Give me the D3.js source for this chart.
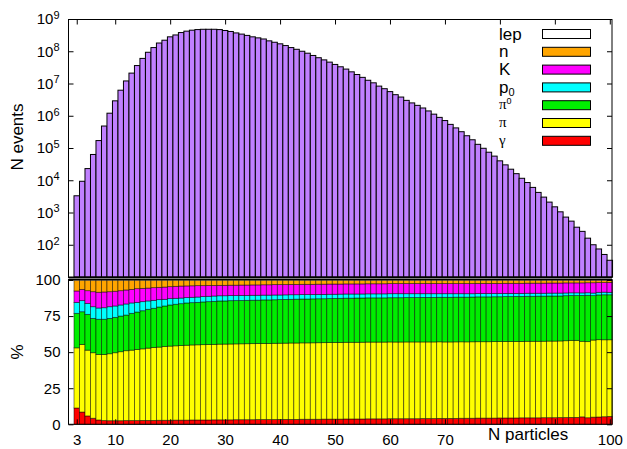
<!DOCTYPE html>
<meta charset="utf-8">
<style>

body {
  margin: 0;
  background: #fff;
}

svg text {
  font-family: "Liberation Sans", Arial, Helvetica, sans-serif;
  fill: #000;
}

.frame {
  fill: none;
  stroke: #000;
  stroke-width: 1;
}

.axis line {
  stroke: #000;
}

.greek {
  font-family: "Liberation Serif", "DejaVu Serif", serif;
}

</style>
<body>

<script src="https://cdn.jsdelivr.net/npm/d3@7"></script>

<script>

// bins: number of particles per event
var nParticles = d3.range(3, 101);

// top panel: number of events per bin
var nEvents = [
  3.3e3, 9.3e3, 2.3e4, 6.3e4, 1.7e5, 4.8e5, 1.2e6, 2.9e6, 6.2e6, 1.2e7,
  2.1e7, 3.6e7, 6.0e7, 9.3e7, 1.3e8, 1.8e8, 2.2e8, 2.8e8, 3.2e8, 3.8e8,
  4.2e8, 4.5e8, 4.7e8, 4.8e8, 4.8e8, 4.8e8, 4.7e8, 4.4e8, 4.1e8, 3.7e8,
  3.4e8, 3.1e8, 2.8e8, 2.6e8, 2.4e8, 2.1e8, 1.9e8, 1.7e8, 1.5e8, 1.3e8,
  1.15e8, 1.0e8, 8.7e7, 7.4e7, 6.3e7, 5.4e7, 4.6e7, 3.9e7, 3.3e7, 2.8e7,
  2.3e7, 1.9e7, 1.55e7, 1.26e7, 1.05e7, 8.3e6, 6.9e6, 5.6e6, 4.5e6, 3.8e6,
  3.0e6, 2.5e6, 2.1e6, 1.74e6, 1.41e6, 1.12e6, 8.9e5, 7.1e5, 5.4e5, 4.2e5,
  3.2e5, 2.4e5, 1.8e5, 1.3e5, 9.8e4, 7.4e4, 5.6e4, 4.0e4, 3.0e4, 2.2e4,
  1.6e4, 1.15e4, 8.5e3, 6.0e3, 4.2e3, 3.0e3, 2.1e3, 1.5e3, 1.05e3, 720,
  540, 350, 260, 160, 100, 74, 50, 33
];

// bottom panel: share of each particle type (%)
var gammaPct = [
  11.3, 8.5, 5.8, 4.2, 3.0, 2.6, 2.5, 2.5, 2.5, 2.6,
  2.6, 2.6, 2.7, 2.7, 2.7, 2.8, 2.8, 2.8, 2.9, 2.9,
  2.9, 3.0, 3.0, 3.0, 3.0, 3.1, 3.1, 3.1, 3.1, 3.2,
  3.2, 3.2, 3.2, 3.3, 3.3, 3.3, 3.3, 3.4, 3.4, 3.4,
  3.4, 3.5, 3.5, 3.5, 3.5, 3.6, 3.6, 3.6, 3.6, 3.7,
  3.7, 3.7, 3.7, 3.8, 3.8, 3.8, 3.8, 3.9, 3.9, 3.9,
  3.9, 3.9, 3.9, 4.0, 4.0, 4.0, 4.1, 4.1, 4.1, 4.1,
  4.2, 4.2, 4.2, 4.3, 4.3, 4.3, 4.3, 4.4, 4.4, 4.4,
  4.4, 4.5, 4.5, 4.5, 4.5, 4.6, 4.6, 4.6, 4.7, 4.7,
  4.8, 4.8, 5.2, 4.6, 5.0, 5.1, 5.3, 5.5
];

var piPct = [
  41.7, 46.8, 45.6, 45.4, 45.4, 45.8, 46.4, 47.1, 47.8, 48.4,
  48.8, 49.3, 49.6, 50.1, 50.6, 50.7, 51.2, 51.4, 51.5, 51.7,
  51.9, 52.0, 52.1, 52.2, 52.3, 52.3, 52.4, 52.5, 52.5, 52.6,
  52.6, 52.7, 52.7, 52.8, 52.8, 52.8, 52.9, 52.9, 52.9, 53.0,
  53.0, 53.0, 53.0, 53.1, 53.1, 53.1, 53.1, 53.2, 53.2, 53.2,
  53.2, 53.2, 53.3, 53.3, 53.3, 53.3, 53.3, 53.3, 53.3, 53.3,
  53.3, 53.3, 53.3, 53.2, 53.2, 53.2, 53.2, 53.1, 53.1, 53.1,
  53.1, 53.0, 53.0, 53.0, 53.0, 53.0, 53.0, 53.0, 53.0, 53.0,
  53.0, 53.0, 53.1, 53.1, 53.1, 53.1, 53.2, 53.2, 53.3, 53.4,
  53.6, 53.6, 52.8, 53.2, 53.8, 53.9, 53.7, 53.5
];

var pi0Pct = [
  23.9, 22.7, 24.8, 23.8, 24.4, 24.4, 24.5, 24.5, 24.7, 24.7,
  25.5, 25.9, 26.4, 26.9, 27.1, 27.8, 28.0, 28.5, 28.8, 29.0,
  29.3, 29.3, 29.4, 29.6, 29.7, 29.8, 29.9, 29.9, 30.0, 30.0,
  30.0, 30.1, 30.1, 30.1, 30.2, 30.2, 30.2, 30.3, 30.3, 30.3,
  30.4, 30.4, 30.4, 30.5, 30.5, 30.5, 30.5, 30.6, 30.6, 30.6,
  30.6, 30.7, 30.7, 30.7, 30.7, 30.7, 30.7, 30.7, 30.8, 30.8,
  30.8, 30.8, 30.8, 30.9, 30.9, 30.9, 30.9, 31.0, 31.0, 31.0,
  31.0, 31.0, 31.0, 31.1, 31.1, 31.1, 31.1, 31.1, 31.2, 31.2,
  31.2, 31.2, 31.2, 31.2, 31.3, 31.3, 31.3, 31.3, 31.3, 31.3,
  31.2, 31.2, 32.0, 32.4, 31.0, 31.2, 31.4, 31.4
];

var p0Pct = [
  7.6, 7.7, 7.6, 8.1, 7.8, 8.0, 8.1, 7.9, 7.7, 7.7,
  7.2, 6.7, 6.3, 5.8, 5.5, 5.1, 4.6, 4.4, 4.1, 3.9,
  3.7, 3.7, 3.7, 3.7, 3.7, 3.7, 3.6, 3.6, 3.5, 3.5,
  3.5, 3.4, 3.4, 3.4, 3.3, 3.3, 3.3, 3.2, 3.2, 3.2,
  3.1, 3.1, 3.1, 3.0, 3.0, 3.0, 3.0, 2.9, 2.9, 2.9,
  2.9, 2.8, 2.8, 2.8, 2.8, 2.8, 2.8, 2.8, 2.8, 2.8,
  2.7, 2.7, 2.7, 2.6, 2.6, 2.6, 2.5, 2.5, 2.5, 2.4,
  2.4, 2.4, 2.3, 2.3, 2.3, 2.3, 2.2, 2.2, 2.2, 2.2,
  2.1, 2.1, 2.1, 2.1, 2.0, 2.0, 2.0, 2.0, 2.0, 1.9,
  1.9, 1.9, 1.8, 1.8, 1.8, 1.8, 1.8, 1.7
];

var kaonPct = [
  7.9, 7.8, 8.8, 10.4, 10.9, 10.9, 10.4, 10.2, 9.9, 9.7,
  9.4, 9.5, 9.2, 8.9, 8.8, 8.5, 8.5, 8.3, 8.3, 8.3,
  8.1, 8.0, 7.9, 7.6, 7.5, 7.3, 7.2, 7.2, 7.2, 7.2,
  7.2, 7.2, 7.2, 7.2, 7.2, 7.2, 7.2, 7.2, 7.1, 7.1,
  7.1, 7.1, 7.1, 7.1, 7.1, 7.1, 7.1, 7.1, 7.0, 7.0,
  7.0, 7.0, 7.0, 7.0, 7.0, 7.0, 7.0, 7.0, 7.0, 7.0,
  7.0, 7.0, 7.0, 7.0, 7.0, 7.0, 7.0, 7.0, 7.0, 7.0,
  7.0, 7.0, 7.0, 7.0, 7.0, 7.0, 7.0, 7.0, 7.0, 7.0,
  7.0, 7.0, 7.0, 7.0, 7.0, 7.0, 7.0, 7.0, 7.0, 7.0,
  6.9, 6.9, 7.0, 7.0, 7.2, 6.8, 6.7, 6.9
];

var neutronPct = [
  7.4, 6.3, 7.2, 7.9, 8.3, 8.1, 7.9, 7.6, 7.2, 6.7,
  6.3, 5.8, 5.6, 5.4, 5.1, 4.9, 4.7, 4.4, 4.2, 4.0,
  3.9, 3.8, 3.7, 3.7, 3.6, 3.6, 3.5, 3.5, 3.4, 3.4,
  3.3, 3.3, 3.2, 3.2, 3.1, 3.1, 3.0, 3.0, 3.0, 2.9,
  2.9, 2.8, 2.8, 2.8, 2.7, 2.7, 2.6, 2.6, 2.6, 2.5,
  2.5, 2.5, 2.5, 2.4, 2.4, 2.4, 2.4, 2.3, 2.3, 2.3,
  2.3, 2.3, 2.3, 2.3, 2.3, 2.3, 2.3, 2.3, 2.3, 2.3,
  2.3, 2.3, 2.3, 2.2, 2.2, 2.2, 2.2, 2.2, 2.1, 2.1,
  2.1, 2.1, 2.0, 2.0, 2.0, 2.0, 1.9, 1.9, 1.9, 1.8,
  1.8, 1.8, 1.8, 1.7, 1.7, 1.6, 1.6, 1.5
];

var lepPct = [
  0.2, 0.2, 0.2, 0.2, 0.2, 0.2, 0.2, 0.2, 0.2, 0.2,
  0.2, 0.2, 0.2, 0.2, 0.2, 0.2, 0.2, 0.2, 0.2, 0.2,
  0.2, 0.2, 0.2, 0.2, 0.2, 0.2, 0.2, 0.2, 0.2, 0.2,
  0.2, 0.2, 0.2, 0.2, 0.2, 0.2, 0.2, 0.2, 0.2, 0.2,
  0.2, 0.2, 0.2, 0.2, 0.2, 0.2, 0.2, 0.2, 0.2, 0.2,
  0.2, 0.2, 0.2, 0.2, 0.2, 0.2, 0.2, 0.2, 0.2, 0.2,
  0.2, 0.2, 0.2, 0.2, 0.2, 0.2, 0.2, 0.2, 0.2, 0.2,
  0.2, 0.2, 0.2, 0.2, 0.2, 0.2, 0.2, 0.2, 0.2, 0.2,
  0.2, 0.2, 0.2, 0.2, 0.2, 0.2, 0.2, 0.2, 0.2, 0.2,
  0.2, 0.2, 0.2, 0.2, 0.2, 0.2, 0.2, 0.2
];

var xTicks = [3, 10, 20, 30, 40, 50, 60, 70, 80, 90, 100];
var xTickLabels = [3, 10, 20, 30, 40, 50, 60, 70, 100];
var logTicks = [1e2, 1e3, 1e4, 1e5, 1e6, 1e7, 1e8, 1e9];
var pctTicks = [0, 25, 50, 75, 100];

// stacking order bottom -> top, legend is drawn top -> bottom
var keys = ['gamma', 'pi', 'pi0', 'p0', 'kaon', 'neutron', 'lep'];
var series = {gamma: gammaPct, pi: piPct, pi0: pi0Pct, p0: p0Pct, kaon: kaonPct, neutron: neutronPct, lep: lepPct};
var color = d3.scaleOrdinal()
    .domain(keys)
    .range(['#ff0000', '#ffff00', '#00ee00', '#00ffff', '#ff00ff', '#ffa500', '#ffffff']);

var width = 627, height = 449;
var left = 68.5, right = 612;
var topY0 = 19, topY1 = 277;
var botY0 = 280, botY1 = 424.3;

var x = d3.scaleLinear()
    .domain([1.5, 100.4])
    .range([left, right]);

var yTop = d3.scaleLog()
    .domain([10, 1e9])
    .range([topY1, topY0]);

var yBot = d3.scaleLinear()
    .domain([0, 100])
    .range([botY1, botY0]);

var bw = x(1) - x(0);

var svg = d3.select('body').append('svg')
    .attr('width', width)
    .attr('height', height);

var table = nParticles.map(function(n, i) {
  var row = {bin: n};
  keys.forEach(function(k) { row[k] = series[k][i]; });
  return row;
});

// normalise each bin to 100 %
var stack = d3.stack()
    .keys(keys)
    .offset(d3.stackOffsetExpand);

var layers = stack(table);

// ---- top panel
svg.append('g')
    .selectAll('rect')
    .data(nParticles)
  .enter().append('rect')
    .attr('x', function(n) { return x(n) - bw / 2; })
    .attr('y', function(n, i) { return yTop(nEvents[i]); })
    .attr('width', bw)
    .attr('height', function(n, i) { return topY1 - yTop(nEvents[i]); })
    .attr('fill', '#c080ff')
    .attr('stroke', '#000')
    .attr('stroke-width', 1);

// ---- bottom panel
var layer = svg.append('g').selectAll('g')
    .data(layers)
  .enter().append('g')
    .attr('fill', function(d) { return color(d.key); });

layer.selectAll('rect')
    .data(function(d) { return d; })
  .enter().append('rect')
    .attr('x', function(d) { return x(d.data.bin) - bw / 2; })
    .attr('y', function(d) { return yBot(d[1] * 100); })
    .attr('width', bw)
    .attr('height', function(d) { return yBot(d[0] * 100) - yBot(d[1] * 100); })
    .attr('stroke', '#000')
    .attr('stroke-opacity', 0.6)
    .attr('stroke-width', 0.8);

// frames
svg.append('rect')
    .attr('class', 'frame')
    .attr('x', left).attr('y', topY0 + 0.5)
    .attr('width', right - left).attr('height', topY1 - topY0);

svg.append('line')
    .attr('x1', left).attr('x2', right)
    .attr('y1', topY1 + 0.5).attr('y2', topY1 + 0.5)
    .attr('stroke', '#000').attr('stroke-width', 1.8);

svg.append('rect')
    .attr('class', 'frame')
    .attr('x', left).attr('y', botY0 - 0.5)
    .attr('width', right - left).attr('height', botY1 - botY0 + 0.5);

// axes
function style(g, size) {
  g.select('.domain').remove();
  g.selectAll('text')
      .attr('font-size', size)
      .attr('font-family', '"Liberation Sans", Arial, sans-serif');
}

svg.append('g')
    .attr('class', 'axis')
    .attr('transform', 'translate(' + left + ',0)')
    .call(d3.axisLeft(yTop).tickValues(logTicks).tickSize(-5).tickPadding(9).tickFormat(''))
    .call(style, 15)
    .selectAll('.tick text')
    .each(function(d) {
      var t = d3.select(this);
      t.append('tspan').text('10');
      t.append('tspan')
          .attr('dy', '-0.5em')
          .attr('font-size', 11)
          .text(Math.round(Math.log10(d)));
    });

svg.append('g')
    .attr('class', 'axis')
    .attr('transform', 'translate(' + right + ',0)')
    .call(d3.axisRight(yTop).tickValues(logTicks).tickSize(-5).tickFormat(''))
    .call(style, 15);

svg.append('g')
    .attr('class', 'axis')
    .attr('transform', 'translate(0,' + (topY0 + 0.5) + ')')
    .call(d3.axisTop(x).tickValues(xTicks).tickSize(-5).tickFormat(''))
    .call(style, 15);

svg.append('g')
    .attr('class', 'axis')
    .attr('transform', 'translate(' + left + ',0)')
    .call(d3.axisLeft(yBot).tickValues(pctTicks).tickSize(-5).tickPadding(8))
    .call(style, 15);

svg.append('g')
    .attr('class', 'axis')
    .attr('transform', 'translate(' + right + ',0)')
    .call(d3.axisRight(yBot).tickValues(pctTicks).tickSize(-5).tickFormat(''))
    .call(style, 15);

svg.append('g')
    .attr('class', 'axis')
    .attr('transform', 'translate(0,' + botY1 + ')')
    .call(d3.axisBottom(x).tickValues(xTicks).tickSize(-5).tickPadding(10)
      .tickFormat(function(d) { return xTickLabels.indexOf(d) >= 0 ? d : ''; }))
    .call(style, 15);

// titles
svg.append('text')
    .attr('transform', 'translate(23,137) rotate(-90)')
    .attr('text-anchor', 'middle')
    .attr('font-size', 17)
    .text('N events');

svg.append('text')
    .attr('transform', 'translate(23,352) rotate(-90)')
    .attr('text-anchor', 'middle')
    .attr('font-size', 17)
    .text('%');

svg.append('text')
    .attr('x', 488)
    .attr('y', 440)
    .attr('font-size', 17)
    .text('N particles');

// legend
var legendItems = [
  {key: 'lep', text: 'lep'},
  {key: 'neutron', text: 'n'},
  {key: 'kaon', text: 'K'},
  {key: 'p0', text: 'p', sub: '0'},
  {key: 'pi0', text: 'π', sup: '0', greek: true},
  {key: 'pi', text: 'π', greek: true},
  {key: 'gamma', text: 'γ', greek: true}
];

var legend = svg.append('g').selectAll('g')
    .data(legendItems)
  .enter().append('g')
    .attr('transform', function(d, i) { return 'translate(0,' + (34 + i * 17.8) + ')'; });

legend.append('rect')
    .attr('x', 542.5)
    .attr('y', -4.5)
    .attr('width', 48)
    .attr('height', 9)
    .attr('fill', function(d) { return color(d.key); })
    .attr('stroke', '#000')
    .attr('stroke-width', 1);

var label = legend.append('text')
    .attr('x', 499)
    .attr('y', function(d) { return d.greek ? 4 : 5.5; })
    .attr('class', function(d) { return d.greek ? 'greek' : null; })
    .attr('font-size', function(d) { return d.greek ? 15 : 17; });

label.append('tspan').text(function(d) { return d.text; });

label.filter(function(d) { return d.sub; })
  .append('tspan')
    .attr('dy', 3)
    .attr('font-size', 11)
    .text(function(d) { return d.sub; });

label.filter(function(d) { return d.sup; })
  .append('tspan')
    .attr('dy', -5)
    .attr('font-size', 9)
    .attr('font-family', '"Liberation Sans", Arial, sans-serif')
    .text(function(d) { return d.sup; });

</script>
</body>
